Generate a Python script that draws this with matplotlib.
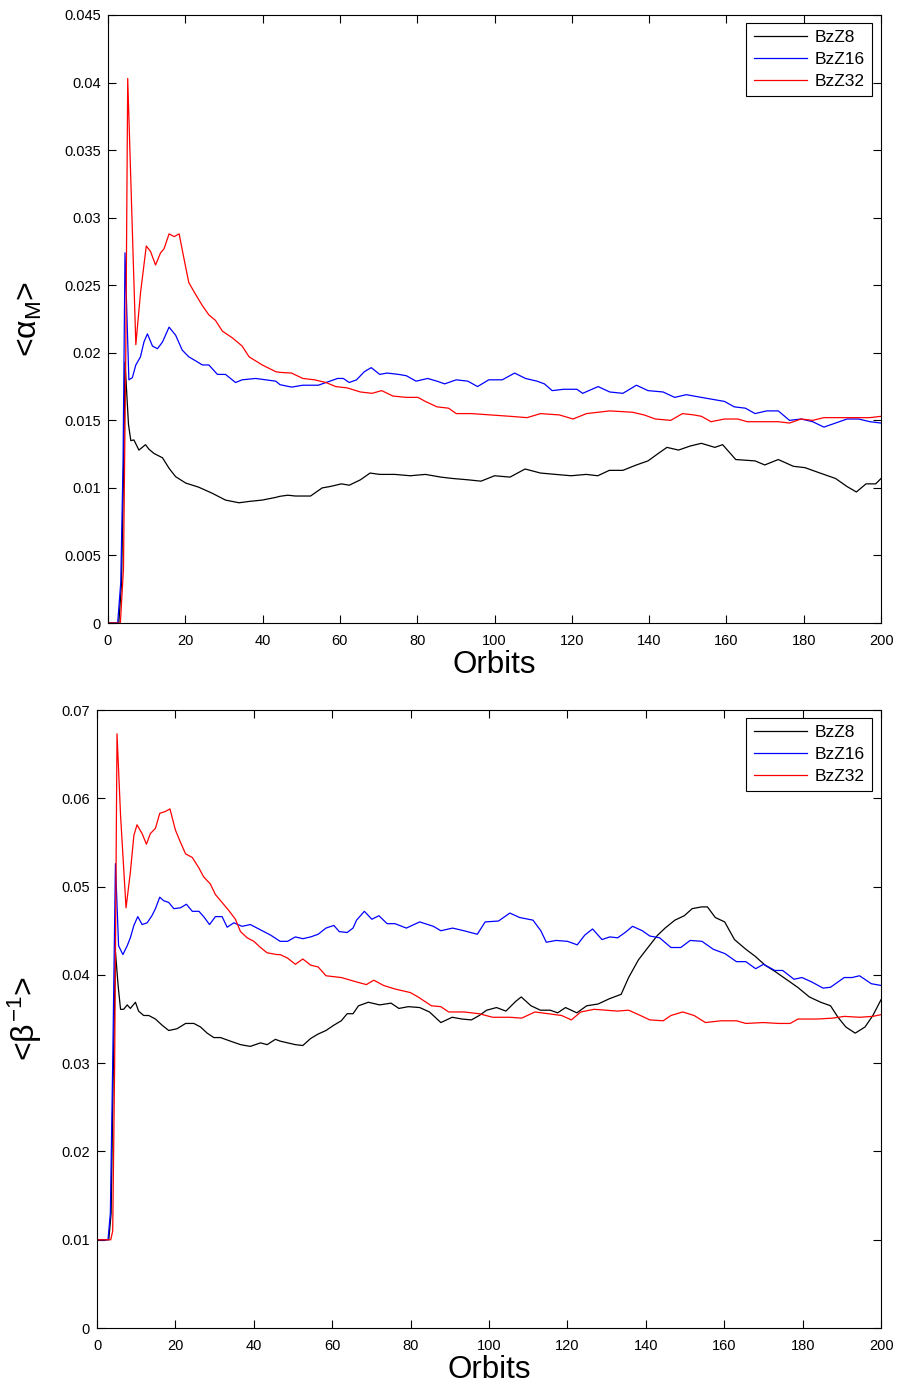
import matplotlib
matplotlib.use("Agg")
import matplotlib.pyplot as plt
from matplotlib.ticker import FuncFormatter

plt.rcParams['font.family'] = ['Liberation Sans', 'DejaVu Sans']
plt.rcParams['mathtext.fontset'] = 'custom'
plt.rcParams['mathtext.rm'] = 'Liberation Sans'
plt.rcParams['mathtext.it'] = 'Liberation Sans'

LABELS = ["BzZ8", "BzZ16", "BzZ32"]
COLORS = ["black", "blue", "red"]

# ---- top panel: <alpha_M> ----
a8_t = [0, 2.8, 3.5, 4.0, 4.4, 5.3, 5.9, 6.7, 8.0, 9.7, 10.6, 11.9, 14.1, 15.8, 17.5,
        20.1, 23.5, 27.0, 30.4, 33.9, 36.5, 39.9, 43.4, 44.5, 46.5, 48.5, 52.4, 55.4,
        57.4, 60.4, 62.4, 65.3, 67.8, 70.3, 74.2, 78.2, 82.1, 86.1, 89.1, 93.1, 96.5,
        100.0, 104.0, 107.9, 111.9, 115.8, 119.8, 123.7, 126.7, 129.7, 133.2, 136.7,
        139.7, 142.6, 144.6, 147.6, 150.6, 153.5, 157.0, 159.0, 162.4, 167.4, 169.9,
        173.4, 177.3, 180.3, 184.2, 188.2, 191.2, 193.6, 196.1, 198.6, 200]
a8_v = [0, 0, 0.003, 0.011, 0.0193, 0.0147, 0.0135, 0.01355, 0.0128, 0.0132, 0.01286,
        0.01255, 0.01223, 0.01145, 0.01083, 0.01036, 0.01005, 0.0096, 0.0091, 0.0089,
        0.0090, 0.0091, 0.0093, 0.00938, 0.00946, 0.0094, 0.0094, 0.0100, 0.0101, 0.0103,
        0.0102, 0.0106, 0.0111, 0.0110, 0.0110, 0.0109, 0.0110, 0.0108, 0.0107, 0.0106,
        0.0105, 0.0109, 0.0108, 0.0114, 0.0111, 0.0110, 0.0109, 0.0110, 0.0109, 0.0113,
        0.0113, 0.0117, 0.0120, 0.0126, 0.0130, 0.0128, 0.0131, 0.0133, 0.0130, 0.0132,
        0.0121, 0.0120, 0.0117, 0.0121, 0.0116, 0.0115, 0.0111, 0.0107, 0.0101, 0.0097,
        0.0103, 0.0103, 0.0107]

a16_t = [0, 2.5, 3.3, 3.9, 4.4, 5.4, 6.3, 7.2, 8.4, 9.3, 10.2, 11.5, 12.8, 14.1, 15.8,
         17.5, 19.2, 20.9, 22.7, 24.4, 26.1, 28.3, 30.4, 33.0, 34.7, 38.2, 40.8, 43.4,
         44.5, 47.5, 50.4, 54.4, 57.4, 59.4, 60.9, 62.4, 64.3, 66.3, 68.1, 70.3, 72.2,
         75.2, 77.2, 79.7, 82.7, 85.1, 87.1, 90.1, 93.1, 95.6, 98.5, 102.0, 105.2, 108.0,
         111.0, 112.9, 114.9, 117.9, 121.3, 122.8, 126.8, 129.8, 133.2, 136.7, 139.7,
         143.6, 146.6, 149.6, 153.5, 157.5, 159.5, 162.0, 164.9, 167.4, 170.4, 173.4,
         176.3, 179.3, 182.3, 185.2, 188.2, 191.2, 194.2, 197.1, 200]
a16_v = [0, 0, 0.003, 0.012, 0.0274, 0.0180, 0.01816, 0.0191, 0.0197, 0.0208, 0.0214,
         0.0205, 0.0203, 0.0208, 0.0219, 0.0213, 0.0202, 0.0197, 0.0194, 0.0191, 0.0191,
         0.0184, 0.0184, 0.0178, 0.0180, 0.0181, 0.0180, 0.0179, 0.01764, 0.01746, 0.0176,
         0.0176, 0.0179, 0.0181, 0.0181, 0.0178, 0.0180, 0.0186, 0.0189, 0.0184, 0.0185,
         0.0184, 0.0183, 0.0179, 0.0181, 0.0179, 0.0177, 0.0180, 0.0179, 0.0175, 0.0180,
         0.0180, 0.0185, 0.0181, 0.0179, 0.0177, 0.0172, 0.0173, 0.0173, 0.0170, 0.0175,
         0.0171, 0.0170, 0.0176, 0.0172, 0.0171, 0.0167, 0.0169, 0.0167, 0.0165, 0.0164,
         0.0160, 0.0159, 0.0155, 0.0157, 0.0157, 0.0150, 0.0151, 0.0149, 0.0145, 0.0148,
         0.0151, 0.0151, 0.0149, 0.0148]

a32_t = [0, 3.2, 4.0, 4.6, 5.1, 7.2, 8.4, 9.9, 11.0, 12.3, 13.6, 14.5, 15.8, 17.1, 18.4,
         19.7, 20.9, 22.7, 24.4, 26.1, 27.8, 29.6, 32.2, 34.7, 36.5, 39.9, 43.4, 44.5,
         47.5, 50.4, 53.4, 56.4, 58.9, 61.9, 65.3, 68.3, 70.8, 73.7, 77.2, 80.2, 82.1,
         85.1, 88.1, 90.1, 94.1, 99.0, 104.0, 108.4, 111.9, 116.8, 120.3, 123.8, 129.8,
         135.7, 138.7, 141.6, 145.6, 148.6, 151.6, 153.5, 156.0, 159.5, 162.9, 165.4,
         169.4, 173.4, 176.3, 179.3, 182.3, 185.2, 189.2, 193.2, 197.1, 200]
a32_v = [0, 0, 0.004, 0.020, 0.0403, 0.0206, 0.0244, 0.0279, 0.0275, 0.0265, 0.0274,
         0.0277, 0.0288, 0.0286, 0.0288, 0.0269, 0.0252, 0.0243, 0.0235, 0.0228, 0.0224,
         0.0216, 0.0211, 0.0205, 0.0197, 0.0191, 0.0186, 0.01855, 0.0185, 0.0181, 0.0180,
         0.0178, 0.0175, 0.0174, 0.0171, 0.0170, 0.0172, 0.0168, 0.0167, 0.0167, 0.0164,
         0.0160, 0.0159, 0.0155, 0.0155, 0.0154, 0.0153, 0.0152, 0.0155, 0.0154, 0.0151,
         0.0155, 0.0157, 0.0156, 0.0154, 0.0151, 0.0150, 0.0155, 0.0154, 0.0153, 0.0149,
         0.0151, 0.0151, 0.0149, 0.0149, 0.0149, 0.0148, 0.0151, 0.0150, 0.0152, 0.0152,
         0.0152, 0.0152, 0.0153]

# ---- bottom panel: <beta^-1> ----
b8_t = [0, 3.0, 3.6, 4.1, 4.7, 5.4, 6.0, 6.8, 7.7, 8.5, 9.8, 10.6, 11.9, 13.2, 14.9,
        16.6, 18.3, 20.4, 22.6, 24.7, 26.4, 28.1, 29.8, 31.5, 34.0, 36.6, 39.1, 41.7,
        43.4, 45.5, 46.7, 48.6, 50.6, 52.5, 54.5, 56.4, 58.4, 60.4, 62.3, 63.8, 65.3,
        66.7, 69.2, 72.1, 75.0, 77.0, 79.4, 82.3, 84.8, 87.7, 90.6, 93.1, 95.5, 97.5,
        99.4, 101.9, 104.3, 106.8, 108.2, 110.7, 113.1, 115.6, 117.5, 119.5, 122.4,
        124.9, 127.8, 130.7, 133.7, 135.6, 138.1, 140.0, 143.0, 144.9, 147.4, 149.8,
        151.8, 154.2, 155.7, 157.7, 160.1, 162.6, 165.5, 167.9, 170.4, 172.9, 175.8,
        178.7, 181.7, 184.6, 187.1, 189.0, 191.0, 193.4, 195.9, 197.9, 200]
b8_v = [0.01, 0.01, 0.013, 0.028, 0.0426, 0.0387, 0.0361, 0.0361, 0.0366, 0.0362, 0.0369,
        0.0359, 0.0354, 0.0354, 0.0350, 0.0343, 0.0337, 0.0339, 0.0345, 0.0345, 0.0341,
        0.0334, 0.0329, 0.0329, 0.0325, 0.0321, 0.0319, 0.0323, 0.0321, 0.0327, 0.0325,
        0.0323, 0.0321, 0.0320, 0.0328, 0.0333, 0.0337, 0.0343, 0.0348, 0.0356, 0.0356,
        0.0365, 0.0369, 0.0366, 0.0368, 0.0362, 0.0364, 0.0363, 0.0358, 0.0346, 0.0352,
        0.0350, 0.0349, 0.0354, 0.0360, 0.0363, 0.0359, 0.0370, 0.0375, 0.0365, 0.0360,
        0.0360, 0.0357, 0.0363, 0.0357, 0.0365, 0.0367, 0.0373, 0.0378, 0.0397, 0.0417,
        0.0428, 0.0445, 0.0453, 0.0462, 0.0467, 0.0475, 0.0477, 0.0477, 0.0465, 0.0460,
        0.0440, 0.0429, 0.0421, 0.0411, 0.0404, 0.0395, 0.0386, 0.0375, 0.0369, 0.0365,
        0.0352, 0.0341, 0.0334, 0.0341, 0.0354, 0.0372]

b16_t = [0, 2.8, 3.4, 4.0, 4.7, 5.5, 6.6, 7.7, 8.5, 9.4, 10.4, 11.5, 12.8, 14.0, 14.9,
         16.0, 17.0, 18.3, 19.6, 21.3, 22.8, 24.3, 26.0, 27.2, 28.7, 30.2, 31.9, 33.2,
         34.9, 37.0, 39.1, 41.7, 44.3, 46.7, 48.6, 50.6, 52.5, 54.5, 56.4, 58.4, 60.4,
         61.8, 63.8, 65.3, 66.2, 68.2, 70.1, 71.9, 74.0, 76.0, 78.9, 82.3, 85.8, 87.7,
         90.7, 93.6, 97.0, 99.0, 102.4, 105.3, 107.8, 111.2, 113.2, 114.6, 117.1, 120.0,
         122.5, 124.4, 126.4, 128.8, 130.8, 132.8, 134.7, 136.6, 139.1, 141.0, 143.5,
         146.4, 148.9, 151.3, 154.3, 157.2, 160.2, 163.1, 165.5, 168.0, 170.0, 172.9,
         174.9, 177.8, 179.8, 182.3, 185.2, 187.1, 190.6, 192.6, 194.5, 197.5, 200]
b16_v = [0.01, 0.01, 0.013, 0.030, 0.0526, 0.0433, 0.0423, 0.0433, 0.0442, 0.0456,
         0.0466, 0.0457, 0.0459, 0.0467, 0.0475, 0.0488, 0.0484, 0.0482, 0.0475, 0.0476,
         0.0480, 0.0472, 0.0472, 0.0466, 0.0457, 0.0466, 0.0466, 0.0454, 0.0459, 0.0455,
         0.0457, 0.0451, 0.0445, 0.0438, 0.0438, 0.0443, 0.0441, 0.0443, 0.0446, 0.0453,
         0.0456, 0.0449, 0.0448, 0.0453, 0.0462, 0.0472, 0.0463, 0.0467, 0.0458, 0.0458,
         0.0453, 0.0460, 0.0455, 0.0450, 0.0453, 0.0450, 0.0446, 0.0460, 0.0461, 0.0470,
         0.0465, 0.0462, 0.0450, 0.0437, 0.0439, 0.0438, 0.0434, 0.0445, 0.0452, 0.0440,
         0.0443, 0.0442, 0.0448, 0.0455, 0.0450, 0.0444, 0.0442, 0.0431, 0.0431, 0.0439,
         0.0438, 0.0429, 0.0424, 0.0415, 0.0415, 0.0407, 0.0412, 0.0405, 0.0405, 0.0395,
         0.0397, 0.0392, 0.0385, 0.0386, 0.0397, 0.0397, 0.0399, 0.0390, 0.0388]

b32_t = [0, 3.5, 4.0, 4.5, 5.1, 6.0, 7.4, 8.5, 9.4, 10.2, 11.5, 12.6, 13.6, 14.9, 16.0,
         17.4, 18.6, 20.0, 21.3, 22.6, 24.3, 26.0, 27.2, 28.9, 30.2, 31.9, 33.6, 35.3,
         36.6, 38.3, 40.0, 41.7, 43.4, 45.9, 46.7, 48.6, 50.6, 52.5, 54.5, 56.4, 58.4,
         62.3, 66.2, 68.7, 70.6, 73.1, 76.0, 79.9, 81.9, 85.3, 87.7, 89.7, 93.6, 97.5,
         100.9, 105.3, 108.3, 111.7, 115.1, 118.5, 121.0, 123.4, 126.8, 129.8, 132.7,
         135.6, 138.6, 141.0, 144.4, 146.4, 149.4, 152.3, 155.2, 159.1, 163.1, 165.5,
         169.9, 173.9, 176.8, 178.8, 183.7, 187.6, 190.6, 194.5, 197.9, 200]
b32_v = [0.01, 0.01, 0.011, 0.030, 0.0673, 0.0581, 0.0476, 0.0516, 0.0558, 0.0570,
         0.0560, 0.0548, 0.0560, 0.0566, 0.0583, 0.0585, 0.0588, 0.0564, 0.0550, 0.0537,
         0.0533, 0.0521, 0.0511, 0.0503, 0.0491, 0.0482, 0.0473, 0.0463, 0.0449, 0.0442,
         0.0438, 0.0431, 0.0425, 0.0423, 0.0423, 0.0419, 0.0412, 0.0418, 0.0411, 0.0409,
         0.0399, 0.0397, 0.0392, 0.0389, 0.0394, 0.0388, 0.0384, 0.0380, 0.0375, 0.0365,
         0.0364, 0.0358, 0.0358, 0.0356, 0.0352, 0.0352, 0.0351, 0.0358, 0.0356, 0.0354,
         0.0349, 0.0358, 0.0361, 0.0360, 0.0359, 0.0360, 0.0354, 0.0349, 0.0348, 0.0354,
         0.0358, 0.0354, 0.0346, 0.0348, 0.0348, 0.0345, 0.0346, 0.0345, 0.0345, 0.0350,
         0.0350, 0.0351, 0.0353, 0.0352, 0.0353, 0.0355]


def style_axes(ax, ymax, ystep):
    ax.set_xlim(0, 200)
    ax.set_ylim(0, ymax)
    ax.set_xticks(range(0, 201, 20))
    n = int(round(ymax / ystep))
    ax.set_yticks([i * ystep for i in range(n + 1)])
    ax.yaxis.set_major_formatter(FuncFormatter(lambda v, p: "%g" % round(v, 4)))
    ax.tick_params(direction="in", top=True, right=True, length=6, width=0.8,
                   labelsize=10.5, pad=5)
    ax.tick_params(axis="x", pad=8)
    for s in ax.spines.values():
        s.set_linewidth(0.8)
    ax.set_xlabel("Orbits", fontsize=22.5, labelpad=1)
    leg = ax.legend(loc="upper right", bbox_to_anchor=(0.988, 0.987), fontsize=12.5,
                    handlelength=3.1, handletextpad=0.4, labelspacing=0.38,
                    borderpad=0.42, borderaxespad=0, fancybox=False, framealpha=1)
    leg.get_frame().set_edgecolor("black")
    leg.get_frame().set_linewidth(0.8)


fig = plt.figure(figsize=(9, 13.87), dpi=100)
ax1 = fig.add_axes([0.12, 0.5508, 0.859, 0.4384])
ax2 = fig.add_axes([0.1078, 0.0425, 0.8712, 0.4456])

for t, v, c, lab in zip([a8_t, a16_t, a32_t], [a8_v, a16_v, a32_v], COLORS, LABELS):
    ax1.plot(t, v, color=c, lw=0.9, label=lab)
for t, v, c, lab in zip([b8_t, b16_t, b32_t], [b8_v, b16_v, b32_v], COLORS, LABELS):
    ax2.plot(t, v, color=c, lw=0.9, label=lab)

style_axes(ax1, 0.045, 0.005)
style_axes(ax2, 0.07, 0.01)

ax1.set_ylabel(r"<$\alpha_\mathrm{M}$>", fontsize=23)
ax1.yaxis.set_label_coords(-0.083, 0.5)
ax2.set_ylabel(r"<$\beta^{-1}$>", fontsize=23)
ax2.yaxis.set_label_coords(-0.068, 0.5)

fig.savefig("out.png", dpi=100)
